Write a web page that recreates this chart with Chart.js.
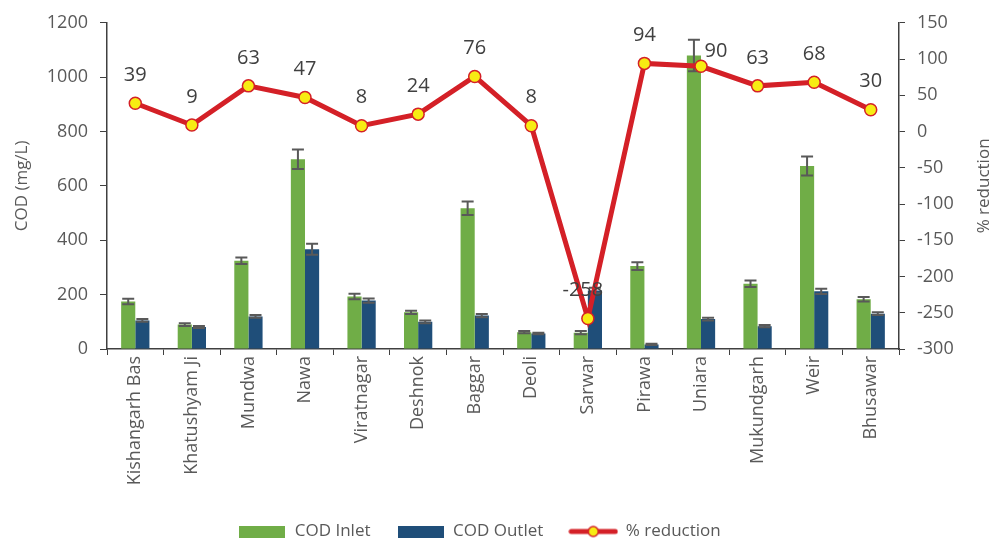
<!DOCTYPE html>
<html>
<head>
<meta charset="utf-8">
<script src="https://cdn.jsdelivr.net/npm/chart.js@4"></script>
<style>
  html, body { margin: 0; padding: 0; background: #ffffff; }
  #wrap { width: 995px; height: 542px; position: relative; }
</style>
</head>
<body>
<div id="wrap"><canvas id="c" width="995" height="542"></canvas></div>
<script>
const categories = ['Kishangarh Bas', 'Khatushyam Ji', 'Mundwa', 'Nawa', 'Viratnagar', 'Deshnok', 'Baggar', 'Deoli', 'Sarwar', 'Pirawa', 'Uniara', 'Mukundgarh', 'Weir', 'Bhusawar'];
const codInlet = [175, 90, 325, 698, 193, 135, 518, 62, 60, 305, 1080, 240, 673, 183];
const codInletErr = [10, 5, 12, 36, 10, 6, 25, 4, 6, 14, 58, 12, 35, 8];
const codOutlet = [105, 81, 120, 367, 178, 100, 123, 57, 215, 17, 110, 84, 212, 130];
const codOutletErr = [5, 4, 5, 20, 8, 5, 6, 3, 10, 2, 5, 4, 10, 5];
const reduction = [39, 9, 63, 47, 8, 24, 76, 8, -258, 94, 90, 63, 68, 30];
const leftTicks = [0, 200, 400, 600, 800, 1000, 1200];
const rightTicks = [-300, -250, -200, -150, -100, -50, 0, 50, 100, 150];

const GREEN = '#70ad47';
const BLUE = '#1f4e79';
const RED = '#d42027';
const YELLOW = '#f7ec13';
const TXT = '#595959';
const FONT = '"Open Sans", "Noto Sans", sans-serif';

function makeSwatch(kind) {
  const cv = document.createElement('canvas');
  if (kind === 'line') {
    cv.width = 50; cv.height = 14;
    const c = cv.getContext('2d');
    c.strokeStyle = RED; c.lineWidth = 5; c.lineCap = 'round';
    c.beginPath(); c.moveTo(3, 7); c.lineTo(47, 7); c.stroke();
    c.fillStyle = YELLOW; c.strokeStyle = RED; c.lineWidth = 1.5;
    c.beginPath(); c.arc(25, 7, 5, 0, Math.PI * 2); c.fill(); c.stroke();
  } else {
    cv.width = 46; cv.height = 12;
    const c = cv.getContext('2d');
    c.fillStyle = kind; c.fillRect(0, 0, 46, 12);
  }
  return cv;
}
const swatches = [makeSwatch(GREEN), makeSwatch(BLUE), makeSwatch('line')];

const errorBarPlugin = {
  id: 'errorBars',
  afterDatasetDraw(chart, args) {
    const ds = chart.data.datasets[args.index];
    if (!ds.errors) return;
    const meta = args.meta;
    const yScale = chart.scales[meta.yAxisID];
    const ctx = chart.ctx;
    ctx.save();
    ctx.strokeStyle = '#595959';
    ctx.lineWidth = 2;
    meta.data.forEach((bar, i) => {
      const v = ds.data[i], e = ds.errors[i];
      const yt = yScale.getPixelForValue(v + e);
      const yb = yScale.getPixelForValue(v - e);
      const x = bar.x, hw = 6;
      ctx.beginPath();
      ctx.moveTo(x, yt); ctx.lineTo(x, yb);
      ctx.moveTo(x - hw, yt); ctx.lineTo(x + hw, yt);
      ctx.moveTo(x - hw, yb); ctx.lineTo(x + hw, yb);
      ctx.stroke();
    });
    ctx.restore();
  }
};

const pointLabelPlugin = {
  id: 'pointLabels',
  afterDatasetsDraw(chart, args, opts) {
    const ctx = chart.ctx;
    chart.data.datasets.forEach((ds, di) => {
      if (ds.type !== 'line') return;
      const meta = chart.getDatasetMeta(di);
      ctx.save();
      ctx.font = '20px ' + FONT;
      ctx.fillStyle = '#404040';
      ctx.textAlign = 'center';
      ctx.textBaseline = 'middle';
      meta.data.forEach((pt, i) => {
        const off = (opts.offsets && opts.offsets[i]) || [0, -28];
        ctx.fillText(String(ds.data[i]), pt.x + off[0], pt.y + off[1]);
      });
      ctx.restore();
    });
  }
};

// right-axis title reading bottom-to-top, and legend nudge
const extrasPlugin = {
  id: 'extras',
  afterLayout(chart, args, opts) {
    if (chart.legend) {
      chart.legend.left += opts.legendShift;
      chart.legend.right += opts.legendShift;
    }
  },
  afterDraw(chart, args, opts) {
    const s = chart.scales.y1;
    const ctx = chart.ctx;
    ctx.save();
    ctx.translate(opts.rightTitleX, (s.top + s.bottom) / 2);
    ctx.rotate(-Math.PI / 2);
    ctx.font = '17px ' + FONT;
    ctx.fillStyle = TXT;
    ctx.textAlign = 'center';
    ctx.textBaseline = 'middle';
    ctx.fillText(opts.rightTitle, 0, 0);
    ctx.restore();
  }
};

new Chart(document.getElementById('c'), {
  data: {
    labels: categories,
    datasets: [
      { type: 'bar', label: 'COD Inlet', data: codInlet, errors: codInletErr, backgroundColor: GREEN, yAxisID: 'y', order: 1, categoryPercentage: 0.5, barPercentage: 1.0 },
      { type: 'bar', label: 'COD Outlet', data: codOutlet, errors: codOutletErr, backgroundColor: BLUE, yAxisID: 'y', order: 1, categoryPercentage: 0.5, barPercentage: 1.0 },
      { type: 'line', label: '% reduction', data: reduction, yAxisID: 'y1', order: 0, borderColor: RED, borderWidth: 5, pointRadius: 6, pointHoverRadius: 6, pointBackgroundColor: YELLOW, pointBorderColor: RED, pointBorderWidth: 1.5, tension: 0 }
    ]
  },
  options: {
    responsive: false,
    animation: false,
    devicePixelRatio: 1,
    layout: { padding: { top: 19, left: 0, right: 0, bottom: -8 } },
    plugins: {
      tooltip: { enabled: false },
      pointLabels: { offsets: { 10: [15, -15], 8: [-5, -28] } },
      extras: { legendShift: -18, rightTitle: '% reduction', rightTitleX: 984 },
      legend: {
        position: 'bottom',
        labels: {
          usePointStyle: true,
          pointStyleWidth: 48,
          padding: 26,
          color: TXT,
          font: { family: FONT, size: 17 },
          generateLabels(chart) {
            return chart.data.datasets.map((ds, i) => ({
              text: ds.label,
              pointStyle: swatches[i],
              fontColor: TXT,
              datasetIndex: i,
              hidden: false,
              lineWidth: 0
            }));
          }
        }
      }
    },
    scales: {
      x: {
        offset: true,
        grid: { drawOnChartArea: false, drawTicks: true, tickLength: 6, color: '#404040', offset: true },
        border: { display: true, color: '#404040', width: 1.5 },
        ticks: { color: TXT, font: { family: FONT, size: 18 }, maxRotation: 90, minRotation: 90, padding: 1, autoSkip: false },
        afterFit(scale) { scale.height = 148; }
      },
      y: {
        position: 'left',
        min: 0, max: 1200,
        afterBuildTicks(scale) { scale.ticks = leftTicks.map(v => ({ value: v })); },
        grid: { drawOnChartArea: false, drawTicks: true, tickLength: 7, color: '#404040' },
        border: { display: true, color: '#404040', width: 1.5 },
        ticks: { color: TXT, font: { family: FONT, size: 18 }, padding: 12, callback: v => String(v) },
        title: { display: true, text: 'COD (mg/L)', color: TXT, font: { family: FONT, size: 17 }, padding: { top: 12, bottom: 0 } },
        afterFit(scale) { scale.width = 107; }
      },
      y1: {
        position: 'right',
        min: -300, max: 150,
        afterBuildTicks(scale) { scale.ticks = rightTicks.map(v => ({ value: v })); },
        grid: { drawOnChartArea: false, drawTicks: true, tickLength: 6, color: '#404040' },
        border: { display: true, color: '#404040', width: 1.5 },
        ticks: { color: TXT, font: { family: FONT, size: 18 }, padding: 12, callback: v => String(v) },
        afterFit(scale) { scale.width = 96; }
      }
    }
  },
  plugins: [errorBarPlugin, pointLabelPlugin, extrasPlugin]
});
</script>
</body>
</html>
